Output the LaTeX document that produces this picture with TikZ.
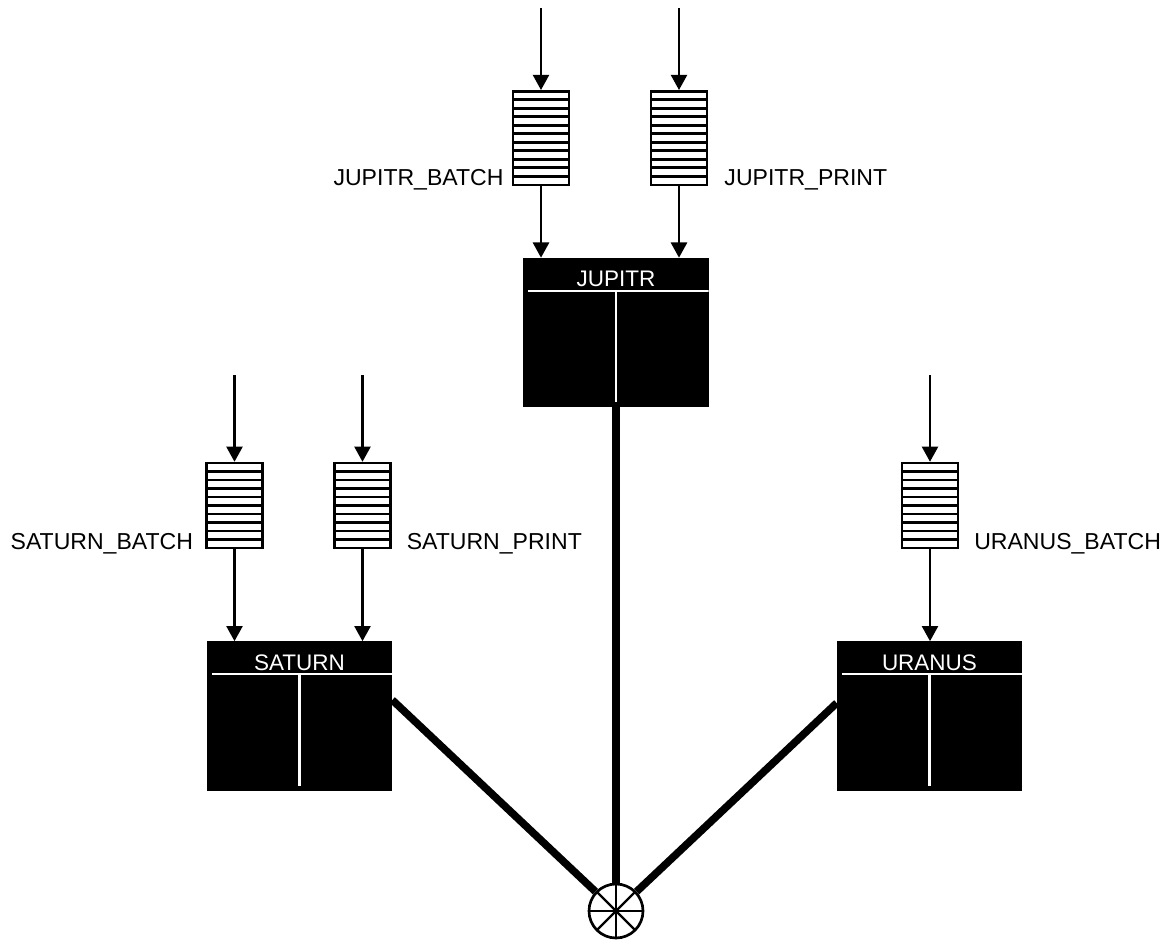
\documentclass[tikz,border=0pt]{standalone}
\usepackage{fontspec}
\setmainfont{Liberation Sans}
\usetikzlibrary{arrows.meta,calc}

\tikzset{
  queue/.style={draw, line width=1.7pt, inner sep=0pt, fill=white,
    minimum width=1.4cm, minimum height=#1*0.2125cm,
    path picture={
      \foreach \k in {1,...,#1}
        \draw[line width=1.9pt]
          ($(path picture bounding box.south west)!\k/#1!(path picture bounding box.north west)$) --
          ($(path picture bounding box.south east)!\k/#1!(path picture bounding box.north east)$);
    }},
  server/.style={fill=black, inner sep=0pt, minimum width=4.625cm, minimum height=3.725cm,
    path picture={
      \draw[white, line width=1.5pt]
        ([xshift=0.12cm, yshift=-0.82cm]path picture bounding box.north west) --
        ([yshift=-0.82cm]path picture bounding box.north east);
      \draw[white, line width=1.5pt]
        ([yshift=-0.82cm]path picture bounding box.north) --
        ([yshift=0.12cm]path picture bounding box.south);
    }},
  title/.style={white, inner sep=0pt, anchor=base, font=\fontsize{16}{19}\selectfont},
  qlabel/.style={inner sep=0pt, font=\fontsize{16.4}{19}\selectfont},
  flow/.style={line width=1.8pt, -{Triangle[length=0.38cm, width=0.4cm]}},
  link/.style={line width=5.4pt},
  hub/.style={circle, draw, line width=1.9pt, minimum size=1.35cm, inner sep=0pt,
    path picture={
      \foreach \a in {0,45,90,135}
        \draw[line width=1.6pt] (path picture bounding box.center) ++(\a:0.7cm) -- ++(\a+180:1.4cm);
    }}
}

\begin{document}
\begin{tikzpicture}[x=0.025cm, y=-0.025cm]
  \useasboundingbox (0,0) rectangle (1166,940);

  % Star coupler at the bottom
  \node[hub] (hub) at (616,911) {};

  % Nodes
  \node[server] (jupitr) at (616,332.5) {};
  \node[title] at ([yshift=-0.72cm]jupitr.north) {JUPITR};
  \node[server] (saturn) at (299.5,716) {};
  \node[title] at ([yshift=-0.72cm]saturn.north) {SATURN};
  \node[server] (uranus) at (929.5,716) {};
  \node[title] at ([yshift=-0.72cm]uranus.north) {URANUS};

  % Links to the star coupler
  \draw[link] (jupitr.south) -- (hub);
  \draw[link] ([yshift=0.4cm]saturn.east) -- (hub);
  \draw[link] ([yshift=0.325cm]uranus.west) -- (hub);

  % Queues on JUPITR
  \node[queue=11] (jb) at (541,138) {};
  \node[queue=11] (jp) at (679,138) {};
  \node[qlabel, anchor=base east] at ([xshift=-0.2cm]jb.south west) {JUPITR\_BATCH};
  \node[qlabel, anchor=base west] at ([xshift=0.4cm]jp.south east) {JUPITR\_PRINT};
  \coordinate (jb-in) at (541,8);
  \coordinate (jp-in) at (679,8);
  \draw[flow] (jb-in) -- (jb);
  \draw[flow] (jp-in) -- (jp);
  \draw[flow] (jb) -- (jb |- jupitr.north);
  \draw[flow] (jp) -- (jp |- jupitr.north);

  % Queues on SATURN
  \node[queue=10] (sb) at (234.5,505.5) {};
  \node[queue=10] (sp) at (362.5,505.5) {};
  \node[qlabel, anchor=base east] at ([xshift=-0.3cm]sb.south west) {SATURN\_BATCH};
  \node[qlabel, anchor=base west] at ([xshift=0.37cm]sp.south east) {SATURN\_PRINT};
  \coordinate (sb-in) at (234.5,375);
  \coordinate (sp-in) at (362.5,375);
  \draw[flow] (sb-in) -- (sb);
  \draw[flow] (sp-in) -- (sp);
  \draw[flow] (sb) -- (sb |- saturn.north);
  \draw[flow] (sp) -- (sp |- saturn.north);

  % Queue on URANUS
  \node[queue=10] (ub) at (930,505.5) {};
  \node[qlabel, anchor=base west] at ([xshift=0.37cm]ub.south east) {URANUS\_BATCH};
  \coordinate (ub-in) at (930,375);
  \draw[flow] (ub-in) -- (ub);
  \draw[flow] (ub) -- (ub |- uranus.north);
\end{tikzpicture}
\end{document}
